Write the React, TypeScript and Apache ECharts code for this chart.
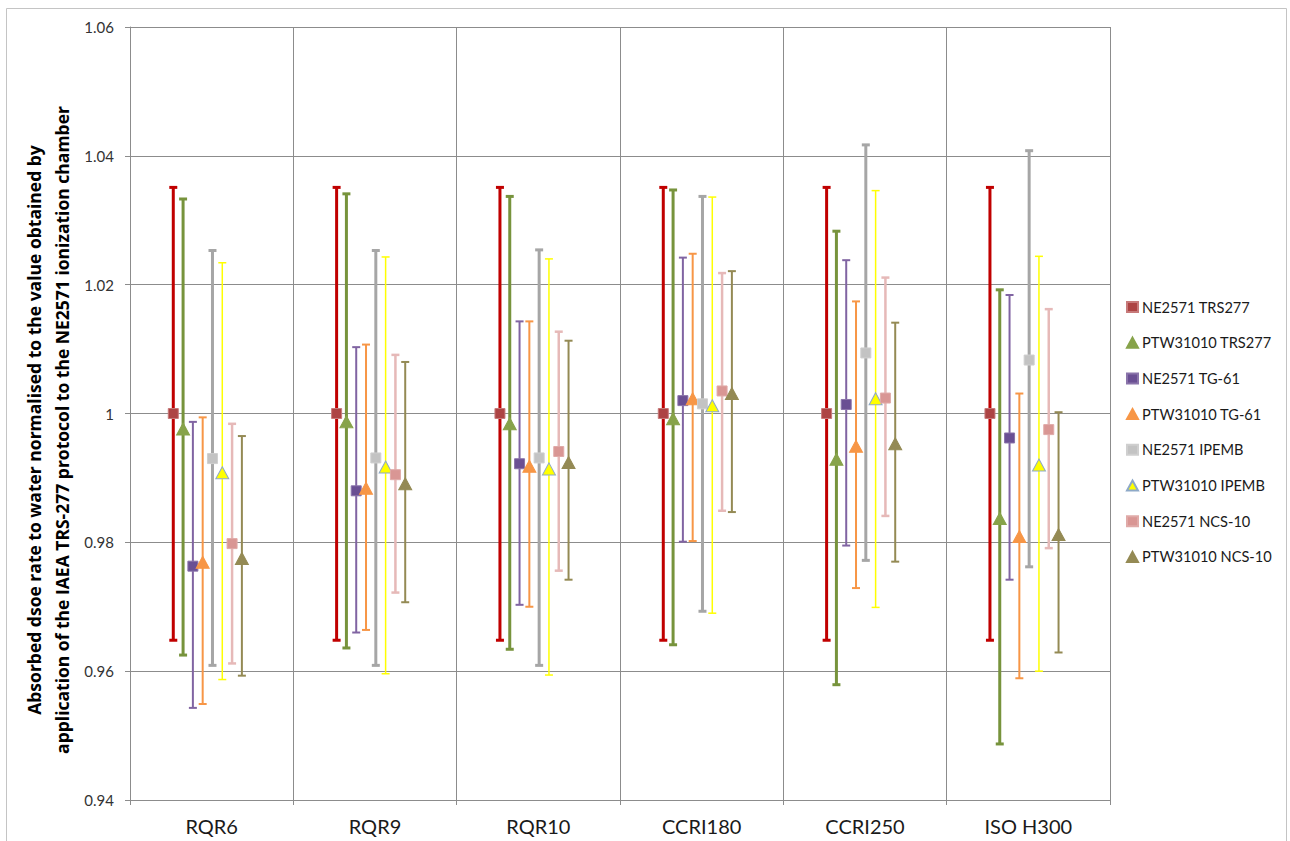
import React, { useEffect, useRef } from "react";
import * as echarts from "echarts";

const categories = ["RQR6", "RQR9", "RQR10", "CCRI180", "CCRI250", "ISO H300"];
const yTicks = [0.94, 0.96, 0.98, 1.0, 1.02, 1.04, 1.06];

// NE2571 TRS277
const neTrsVal = [1.0, 1.0, 1.0, 1.0, 1.0, 1.0];
const neTrsHi = [1.0351, 1.0351, 1.0351, 1.0351, 1.0351, 1.0351];
const neTrsLo = [0.9648, 0.9648, 0.9648, 0.9648, 0.9648, 0.9648];
// PTW31010 TRS277
const ptwTrsVal = [0.9976, 0.9987, 0.9984, 0.9992, 0.9929, 0.9837];
const ptwTrsHi = [1.0333, 1.0341, 1.0337, 1.0347, 1.0283, 1.0192];
const ptwTrsLo = [0.9625, 0.9636, 0.9634, 0.9641, 0.9579, 0.9487];
// NE2571 TG-61
const neTgVal = [0.9763, 0.9880, 0.9922, 1.0020, 1.0014, 0.9962];
const neTgHi = [0.9987, 1.0103, 1.0143, 1.0242, 1.0238, 1.0184];
const neTgLo = [0.9543, 0.9660, 0.9703, 0.9801, 0.9795, 0.9742];
// PTW31010 TG-61
const ptwTgVal = [0.9769, 0.9884, 0.9918, 1.0023, 0.9949, 0.9809];
const ptwTgHi = [0.9994, 1.0107, 1.0143, 1.0248, 1.0174, 1.0031];
const ptwTgLo = [0.9549, 0.9664, 0.9700, 0.9802, 0.9729, 0.9589];
// NE2571 IPEMB
const neIpVal = [0.9930, 0.9931, 0.9931, 1.0015, 1.0094, 1.0083];
const neIpHi = [1.0253, 1.0253, 1.0254, 1.0337, 1.0417, 1.0408];
const neIpLo = [0.9609, 0.9609, 0.9609, 0.9693, 0.9772, 0.9762];
// PTW31010 IPEMB
const ptwIpVal = [0.9908, 0.9917, 0.9914, 1.0012, 1.0023, 0.9920];
const ptwIpHi = [1.0234, 1.0243, 1.0240, 1.0336, 1.0346, 1.0244];
const ptwIpLo = [0.9587, 0.9596, 0.9594, 0.9690, 0.9699, 0.9600];
// NE2571 NCS-10
const neNcsVal = [0.9798, 0.9905, 0.9941, 1.0035, 1.0024, 0.9975];
const neNcsHi = [0.9984, 1.0091, 1.0127, 1.0218, 1.0211, 1.0162];
const neNcsLo = [0.9612, 0.9722, 0.9756, 0.9849, 0.9841, 0.9791];
// PTW31010 NCS-10
const ptwNcsVal = [0.9775, 0.9891, 0.9924, 1.0031, 0.9953, 0.9812];
const ptwNcsHi = [0.9965, 1.0080, 1.0113, 1.0221, 1.0141, 1.0002];
const ptwNcsLo = [0.9593, 0.9707, 0.9742, 0.9847, 0.9770, 0.9629];

const seriesDefs = [
  { name: "NE2571 TRS277", val: neTrsVal, hi: neTrsHi, lo: neTrsLo, symbol: "rect", size: [10, 10], bar: "#C00000", barW: 3, mark: "#AD4444", border: "#C77A7A", off: 0.265 },
  { name: "PTW31010 TRS277", val: ptwTrsVal, hi: ptwTrsHi, lo: ptwTrsLo, symbol: "triangle", size: [13, 12], bar: "#77933C", barW: 3, mark: "#87A34A", border: "#87A34A", off: 0.325 },
  { name: "NE2571 TG-61", val: neTgVal, hi: neTgHi, lo: neTgLo, symbol: "rect", size: [10, 10], bar: "#8064A2", barW: 2, mark: "#6A4F93", border: "#8A74AA", off: 0.385 },
  { name: "PTW31010 TG-61", val: ptwTgVal, hi: ptwTgHi, lo: ptwTgLo, symbol: "triangle", size: [13, 12], bar: "#F79646", barW: 2, mark: "#F79646", border: "#F79646", off: 0.445 },
  { name: "NE2571 IPEMB", val: neIpVal, hi: neIpHi, lo: neIpLo, symbol: "rect", size: [10, 10], bar: "#A6A6A6", barW: 3, mark: "#C3C3C3", border: "#CFCFCF", off: 0.505 },
  { name: "PTW31010 IPEMB", val: ptwIpVal, hi: ptwIpHi, lo: ptwIpLo, symbol: "triangle", size: [13, 12], bar: "#FFFF00", barW: 1.5, mark: "#FFFF00", border: "#8EA9C8", off: 0.565 },
  { name: "NE2571 NCS-10", val: neNcsVal, hi: neNcsHi, lo: neNcsLo, symbol: "rect", size: [10, 10], bar: "#E6B9B8", barW: 2.5, mark: "#D99694", border: "#E0AAA8", off: 0.625 },
  { name: "PTW31010 NCS-10", val: ptwNcsVal, hi: ptwNcsHi, lo: ptwNcsLo, symbol: "triangle", size: [13, 12], bar: "#948A54", barW: 2, mark: "#948A54", border: "#948A54", off: 0.685 },
];

const FONT = "Lato, 'Open Sans', sans-serif";

export default function App() {
  const ref = useRef<HTMLDivElement>(null);
  useEffect(() => {
    document.body.style.margin = "0";
    const chart = echarts.init(ref.current!, null, { renderer: "svg" });
    const series: any[] = [];
    seriesDefs.forEach((s) => {
      series.push({
        type: "custom",
        name: s.name + " err",
        xAxisIndex: 0,
        yAxisIndex: 0,
        encode: { x: 0, y: [1, 2] },
        data: categories.map((_, i) => [i + s.off, s.lo[i], s.hi[i]]),
        z: 2,
        renderItem: (params: any, api: any) => {
          const x = api.value(0);
          const top = api.coord([x, api.value(2)]);
          const bot = api.coord([x, api.value(1)]);
          const cap = 4;
          const style = { stroke: s.bar, lineWidth: s.barW };
          return {
            type: "group",
            children: [
              { type: "line", shape: { x1: top[0], y1: top[1], x2: bot[0], y2: bot[1] }, style },
              { type: "line", shape: { x1: top[0] - cap, y1: top[1], x2: top[0] + cap, y2: top[1] }, style },
              { type: "line", shape: { x1: bot[0] - cap, y1: bot[1], x2: bot[0] + cap, y2: bot[1] }, style },
            ],
          };
        },
      });
    });
    seriesDefs.forEach((s) => {
      series.push({
        type: "scatter",
        name: s.name,
        xAxisIndex: 0,
        yAxisIndex: 0,
        symbol: s.symbol,
        symbolSize: s.size,
        z: 3,
        itemStyle: { color: s.mark, borderColor: s.border, borderWidth: 1, opacity: 1 },
        data: categories.map((_, i) => [i + s.off, s.val[i]]),
      });
    });

    chart.setOption({
      animation: false,
      backgroundColor: "#FFFFFF",
      textStyle: { fontFamily: FONT },
      grid: { left: 130, right: 180, top: 27, bottom: 41 },
      graphic: [
        {
          type: "rect",
          shape: { x: 6.5, y: 8.5, width: 1280, height: 860 },
          style: { fill: "none", stroke: "#C4C4C4", lineWidth: 1 },
          z: -10,
          silent: true,
        },
        {
          type: "text",
          x: 48,
          y: 430,
          rotation: Math.PI / 2,
          style: {
            text: "Absorbed dsoe rate to water normalised to the value obtained by\napplication of the IAEA TRS-277 protocol to the NE2571 ionization chamber",
            font: "bold 17.5px 'Open Sans', sans-serif",
            fill: "#000000",
            align: "center",
            verticalAlign: "middle",
            lineHeight: 28,
          },
        },
      ],
      legend: {
        orient: "vertical",
        left: 1126,
        top: 299.5,
        padding: 0,
        itemWidth: 11,
        itemHeight: 10,
        itemGap: 20.7,
        textStyle: { fontFamily: FONT, fontSize: 14.6, color: "#1a1a1a", padding: [0, 0, 0, -1] },
        data: seriesDefs.map((s) => s.name),
      },
      xAxis: [
        {
          type: "value",
          min: 0,
          max: 6,
          interval: 1,
          axisLine: { show: true, onZero: false, lineStyle: { color: "#8C8C8C", width: 1 } },
          axisTick: { show: true, length: 5, lineStyle: { color: "#8C8C8C" } },
          axisLabel: { show: false },
          splitLine: { show: true, lineStyle: { color: "#8C8C8C", width: 1 } },
        },
        {
          type: "category",
          position: "bottom",
          data: categories,
          axisLine: { show: false },
          axisTick: { show: false },
          splitLine: { show: false },
          axisLabel: { fontFamily: FONT, fontSize: 20, color: "#1a1a1a", margin: 16 },
        },
      ],
      yAxis: {
        type: "value",
        min: 0.94,
        max: 1.06,
        interval: 0.02,
        axisLine: { show: true, lineStyle: { color: "#8C8C8C", width: 1 } },
        axisTick: { show: true, length: 5, lineStyle: { color: "#8C8C8C" } },
        axisLabel: {
          fontFamily: FONT,
          fontSize: 15,
          color: "#333333",
          margin: 16,
          formatter: (v: number) => {
            const t = yTicks.find((k) => Math.abs(k - v) < 1e-9);
            return String(parseFloat((t ?? v).toFixed(2)));
          },
        },
        splitLine: { show: true, lineStyle: { color: "#8C8C8C", width: 1 } },
      },
      series,
    });
    return () => chart.dispose();
  }, []);
  return <div ref={ref} style={{ width: 1290, height: 841 }} />;
}
